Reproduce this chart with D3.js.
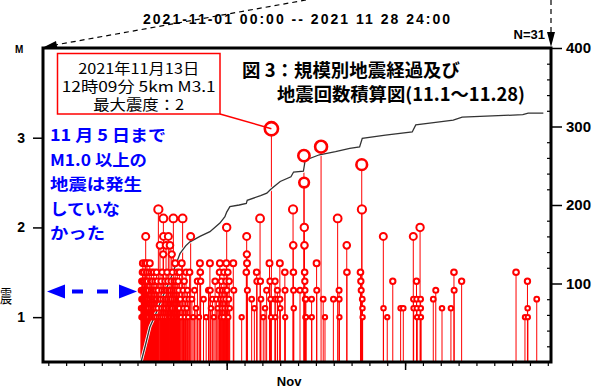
<!DOCTYPE html>
<html>
<head>
<meta charset="utf-8">
<script src="https://cdn.jsdelivr.net/npm/d3@7"></script>
<style>
  body { margin: 0; background: #fff; }
  svg { display: block; }
</style>
</head>
<body>
<svg id="chart" width="607" height="388"></svg>
<script>
// ---- texts ----
const periodLabel = "2021-11-01 00:00 -- 2021 11 28 24:00";
const countLabel = "N=31";
const titleLines = ["図 3：規模別地震経過及び", "地震回数積算図(11.1～11.28)"];
const noteLines = ["2021年11月13日", "12時09分 5km  M3.1", "最大震度：2"];
const remarkLines = ["11 月 5 日まで", "M1.0 以上の", "地震は発生", "していな", "かった"];
const sideLabel = "震";
const monthLabel = "Nov";

// ---- axis ticks ----
const magTicks = [1, 2, 3];
const countTicks = [100, 200, 300, 400];
const countMinorTicks = [20, 40, 60, 80, 120, 140, 160, 180, 220, 240, 260, 280, 320, 340, 360, 380];
const majorDayTicks = [11, 21];

// ---- events: [day of November (decimal, JST), magnitude] ----
const nov06 = [
  [6.20,1.1],[6.21,1.3],[6.22,1.0],[6.23,1.2],[6.24,1.4],[6.25,1.1],[6.26,1.0],[6.27,1.3],[6.28,1.5],[6.29,1.2],
  [6.30,1.6],[6.31,1.0],[6.32,1.4],[6.33,1.1],[6.34,1.3],[6.35,1.2],[6.36,1.0],[6.37,1.5],[6.38,1.1],[6.39,1.4],
  [6.40,1.2],[6.41,1.0],[6.42,1.3],[6.43,1.6],[6.44,1.1],[6.45,1.2],[6.46,1.9],[6.47,1.0],[6.48,1.4],[6.49,1.3],
  [6.50,1.1],[6.51,1.2],[6.52,1.5],[6.53,1.6],[6.54,1.0],[6.55,1.3],[6.56,1.1],[6.57,1.4],[6.58,1.2],[6.60,1.0],
  [6.62,1.3],[6.63,1.1],[6.65,1.5],[6.67,1.2],[6.69,1.6],
  [6.71,1.2],[6.72,1.0],[6.74,1.4],[6.75,1.1],[6.77,1.3],[6.78,1.5],[6.80,1.0],[6.81,1.2],[6.83,1.4],[6.84,1.1],
  [6.86,1.3],[6.88,1.0],[6.89,1.2],[6.91,1.5],[6.93,1.1],[6.95,1.3],[6.96,1.0],[6.98,1.4]
];
const nov07 = [
  [7.00,1.2],[7.02,1.1],[7.04,1.3],[7.05,1.0],[7.07,1.5],[7.09,1.2],[7.11,1.4],[7.13,1.1],[7.15,1.3],[7.17,2.2],
  [7.19,1.0],[7.22,1.2],[7.26,1.8],[7.28,1.2],[7.30,1.0],[7.32,1.4],[7.34,1.1],[7.36,1.3],[7.38,1.5],[7.40,1.0],
  [7.42,1.2],[7.44,1.7],[7.45,2.1],[7.46,1.9],[7.48,1.1],[7.50,1.3],[7.52,1.0],[7.54,1.4],[7.56,1.2],[7.58,1.1],
  [7.60,1.8],[7.62,1.3],[7.64,1.0],[7.66,1.5],[7.68,1.2],[7.70,1.4],[7.72,1.1],[7.73,1.9],[7.75,1.3],[7.77,1.0],
  [7.80,1.2],[7.82,1.8],[7.84,1.1],[7.85,1.3],[7.87,1.0],[7.89,1.4],[7.90,1.2],[7.92,1.7],[7.94,1.1],[7.96,1.5],
  [7.97,1.0],[7.99,1.3]
];
const nov08 = [
  [8.01,2.1],[8.03,1.2],[8.04,1.0],[8.06,1.4],[8.08,1.1],[8.09,1.3],[8.11,1.6],[8.13,1.0],[8.14,1.2],[8.16,1.4],
  [8.18,1.1],[8.19,1.3],[8.21,1.0],[8.23,1.5],[8.24,1.2],[8.26,1.1],[8.28,1.4],[8.29,1.0],[8.31,1.3],[8.33,1.2],
  [8.34,1.1],[8.36,1.5],[8.37,1.0],[8.40,1.2],[8.44,1.0],[8.48,1.6],[8.53,2.1],[8.55,1.3],[8.58,1.1],[8.62,1.4],
  [8.65,1.0],[8.69,1.2],[8.72,1.5],[8.76,1.1],[8.80,1.3],[8.84,1.0],[8.88,1.2],[8.92,1.5],[8.98,1.9]
];
const nov09to12 = [
  [9.05,1.2],[9.12,1.0],[9.20,1.3],[9.28,1.1],[9.36,1.4],[9.45,1.0],[9.50,1.6],[9.52,1.5],[9.54,1.4],[9.70,1.2],
  [9.85,1.0],[9.98,1.3],[10.06,1.6],[10.08,1.3],[10.12,1.1],[10.20,1.2],[10.28,1.0],[10.35,1.4],[10.42,1.2],[10.50,1.1],
  [10.56,1.3],[10.60,1.5],[10.62,1.6],[10.65,1.2],[10.68,1.0],[10.70,1.4],[10.73,1.1],[10.76,1.3],[10.79,1.2],[10.82,1.0],
  [10.85,1.5],[10.88,1.1],[10.91,1.3],[10.94,1.2],[10.96,1.4],[10.98,1.6],[11.00,2.0],[11.02,1.3],[11.04,1.1],[11.06,1.5],
  [11.09,1.0],[11.12,1.2],[11.14,1.4],[11.17,1.1],[11.37,1.6],[11.40,1.3],[11.84,1.0],[12.10,1.5],[12.12,1.9],[12.13,1.7],
  [12.14,1.6],[12.16,1.3],[12.40,1.2],[12.55,1.1],[12.68,1.5],[12.70,1.4],[12.87,2.1],[12.89,1.4],[12.92,1.2]
];
const nov13 = [
  [13.05,1.0],[13.15,1.1],[13.24,1.3],[13.40,1.6],[13.43,1.4],[13.46,1.2],[13.48,1.0],[13.506,3.1],[13.71,1.4],[13.72,1.2],
  [13.73,1.0],[13.84,1.3],[13.85,1.2],[13.98,1.6],[13.99,1.2]
];
const nov14to20 = [
  [14.00,1.1],[14.26,1.5],[14.27,1.3],[14.28,1.0],[14.72,2.2],[14.73,1.8],[14.74,1.5],[14.75,1.3],[14.76,1.1],[15.11,1.3],
  [15.33,2.8],[15.34,2.5],[15.35,2.0],[15.36,1.8],[15.37,1.5],[15.38,1.4],[15.39,1.3],[15.40,1.2],[15.41,1.0],[15.44,1.2],
  [15.45,1.0],[15.76,1.2],[15.77,1.0],[16.04,1.6],[16.05,1.3],[16.29,2.9],[16.41,1.2],[16.51,1.0],[16.98,1.2],[17.22,2.1],
  [17.30,1.3],[17.31,1.2],[17.32,1.0],[17.73,1.8],[17.74,1.5],[18.50,1.5],[18.52,1.4],[18.54,1.3],[18.57,2.7],[18.58,2.2],
  [18.60,1.2],[18.61,1.1],[18.62,1.0],[19.78,1.9],[19.79,1.1],[20.00,1.0],[20.31,1.4],[20.75,1.1],[20.90,1.1]
];
const nov21to28 = [
  [21.46,1.9],[21.47,1.2],[21.48,1.1],[21.64,1.4],[21.65,1.2],[21.66,1.1],[21.67,1.0],[21.84,2.0],[21.87,1.2],[21.88,1.1],
  [21.89,1.0],[22.58,1.2],[22.72,1.3],[23.07,1.1],[23.57,1.1],[23.74,1.5],[23.75,1.3],[24.17,1.4],[27.22,1.5],[27.72,1.0],
  [27.86,1.4],[27.87,1.1],[27.88,1.0],[28.38,1.2]
];
// the event the note box refers to
const notedEvent = [13.506, 3.1];

// ---- running total of events: [day of November, count] ----
const cumulativeCounts = [
  [6.20,0],[6.45,22],[6.70,45],[7.00,60],[7.26,75],[7.55,90],[7.82,104],[8.10,121],[8.38,138],[8.70,148],
  [8.94,153],[9.50,160],[10.06,166],[10.62,177],[10.90,185],[11.00,191],[11.18,198],[11.70,200],[12.10,202],[12.15,206],
  [12.90,212],[13.25,215],[13.43,219],[13.52,221],[14.00,230],[14.60,236],[14.75,242],[15.30,243],[15.40,257],[16.20,264],
  [17.10,268],[17.90,272],[18.45,274],[18.60,285],[19.90,289],[21.40,293],[21.60,302],[22.60,305],[23.70,308],[24.20,312],
  [27.60,315],[27.90,317],[28.75,317]
];

// ---- drawing ----
const svg = d3.select("#chart");
const frame = { left: 43, right: 551, top: 48, bottom: 362 };
const sans = "'Liberation Sans', Arial, sans-serif";
const cjk = "'Noto Sans CJK JP', sans-serif";

const t0 = new Date(2021, 10, 1);
const dayToDate = d => new Date(t0.getTime() + (d - 1) * 864e5);

const x = d3.scaleTime().domain([t0, new Date(2021, 10, 29)]).range([48.3, 547.8]);
const yM = d3.scaleLinear().domain([0.5, 4]).range([frame.bottom, frame.top]);
const yN = d3.scaleLinear().domain([0, 400]).range([frame.bottom, frame.top]);
// circle radius grows geometrically with magnitude
const rM = d3.scaleLinear().domain([Math.pow(1.66, 1), Math.pow(1.66, 3.1)]).range([2.16, 6.6]);
const radius = m => rM(Math.pow(1.66, m));

const events = [].concat(nov06, nov07, nov08, nov09to12, nov13, nov14to20, nov21to28)
  .map(([d, m]) => ({ t: dayToDate(d), m }));

svg.append("defs").append("clipPath").attr("id", "plot-clip")
  .append("rect")
  .attr("x", frame.left).attr("y", frame.top)
  .attr("width", frame.right - frame.left).attr("height", frame.bottom - frame.top);

const plot = svg.append("g").attr("clip-path", "url(#plot-clip)");

// stems
plot.append("g").selectAll("line").data(events).join("line")
  .attr("x1", d => x(d.t)).attr("x2", d => x(d.t))
  .attr("y1", frame.bottom).attr("y2", d => yM(d.m))
  .attr("stroke", "#ff0000").attr("stroke-width", 1);

// cumulative count curve
const cumLine = d3.line().x(d => x(dayToDate(d[0]))).y(d => yN(d[1]));
plot.append("path").datum(cumulativeCounts).attr("d", cumLine)
  .attr("fill", "none").attr("stroke", "#fff").attr("stroke-width", 3);
plot.append("path").datum(cumulativeCounts).attr("d", cumLine)
  .attr("fill", "none").attr("stroke", "#333").attr("stroke-width", 1.3);

// leader from the note box to the noted event
const nx = x(dayToDate(notedEvent[0])), ny = yM(notedEvent[1]);
svg.append("line").attr("x1", 220).attr("y1", 114).attr("x2", nx).attr("y2", ny)
  .attr("stroke", "#ff0000").attr("stroke-width", 1.5);

// magnitude circles
plot.append("g").selectAll("circle").data(events).join("circle")
  .attr("cx", d => x(d.t)).attr("cy", d => yM(d.m)).attr("r", d => radius(d.m))
  .attr("fill", "#fff").attr("stroke", "#ff0000")
  .attr("stroke-width", d => d.m >= 2.5 ? 2.6 : 2);

// frame
svg.append("rect")
  .attr("x", frame.left).attr("y", frame.top)
  .attr("width", frame.right - frame.left).attr("height", frame.bottom - frame.top)
  .attr("fill", "none").attr("stroke", "#000").attr("stroke-width", 3);

// left magnitude axis
const gL = svg.append("g").attr("transform", `translate(${frame.left},0)`)
  .call(d3.axisLeft(yM).tickValues(magTicks).tickSize(10).tickPadding(8).tickFormat(d3.format("d")));
gL.select(".domain").remove();
gL.selectAll("line").attr("stroke-width", 1.5);
gL.selectAll("text").attr("font-family", sans).attr("font-weight", "bold").attr("font-size", 14);

// right count axis
const gR = svg.append("g").attr("transform", `translate(${frame.right},0)`)
  .call(d3.axisRight(yN).tickValues(countTicks).tickSize(11).tickPadding(4));
gR.select(".domain").remove();
gR.selectAll("line").attr("stroke-width", 1.5);
gR.selectAll("text").attr("font-family", sans).attr("font-weight", "bold").attr("font-size", 15);
const gR2 = svg.append("g").attr("transform", `translate(${frame.right},0)`)
  .call(d3.axisRight(yN).tickValues(countMinorTicks).tickSize(-4).tickFormat(""));
gR2.select(".domain").remove();
gR2.selectAll("line").attr("stroke-width", 1.2);

// bottom time axis
const days = d3.timeDay.range(t0, new Date(2021, 10, 30));
const gB = svg.append("g").attr("transform", `translate(0,${frame.bottom})`)
  .call(d3.axisBottom(x).tickValues(days).tickSize(4).tickFormat(""));
gB.select(".domain").remove();
gB.selectAll("line").attr("stroke-width", 1.2);
const gB2 = svg.append("g").attr("transform", `translate(0,${frame.bottom})`)
  .call(d3.axisBottom(x).tickValues(majorDayTicks.map(dayToDate)).tickSize(8).tickFormat(""));
gB2.select(".domain").remove();
gB2.selectAll("line").attr("stroke-width", 1.5);

svg.append("text").attr("x", x(dayToDate(14.5))).attr("y", 386)
  .attr("text-anchor", "middle").attr("font-family", sans).attr("font-weight", "bold")
  .attr("font-size", 13).text(monthLabel);

// axis captions
svg.append("text").attr("x", 15).attr("y", 53)
  .attr("font-family", sans).attr("font-weight", "bold").attr("font-size", 10).text("M");
svg.append("text").attr("x", 0).attr("y", 303)
  .attr("font-family", cjk).attr("font-size", 18)
  .attr("textLength", 12).attr("lengthAdjust", "spacingAndGlyphs").text(sideLabel);

// period header and pointers
svg.append("text").attr("x", 143).attr("y", 24)
  .attr("font-family", sans).attr("font-weight", "bold").attr("font-size", 14)
  .attr("textLength", 307).attr("lengthAdjust", "spacing").text(periodLabel);

svg.append("line").attr("x1", 306).attr("y1", 0).attr("x2", 55).attr("y2", 45)
  .attr("stroke", "#000").attr("stroke-width", 1.2).attr("stroke-dasharray", "5,4");
svg.append("path").attr("d", "M44,47 L56,41 L57.5,48.5 Z").attr("fill", "#000");

svg.append("line").attr("x1", frame.right).attr("y1", 0).attr("x2", frame.right).attr("y2", 33)
  .attr("stroke", "#000").attr("stroke-width", 1.2).attr("stroke-dasharray", "5,4");
svg.append("path").attr("d", `M${frame.right - 4},32 L${frame.right + 4},32 L${frame.right},47 Z`).attr("fill", "#000");

svg.append("text").attr("x", 545).attr("y", 39).attr("text-anchor", "end")
  .attr("font-family", sans).attr("font-weight", "bold").attr("font-size", 13).text(countLabel);

// title
const titleX = [242, 277], titleY = [77, 101], titleW = [218, 248];
titleLines.forEach((s, i) => {
  svg.append("text").attr("x", titleX[i]).attr("y", titleY[i])
    .attr("font-family", cjk).attr("font-weight", "bold").attr("font-size", 18)
    .attr("textLength", titleW[i]).attr("lengthAdjust", "spacingAndGlyphs").text(s);
});

// note box for the largest event
svg.append("rect").attr("x", 57.5).attr("y", 53.5).attr("width", 162.5).attr("height", 60.5)
  .attr("fill", "#fff").attr("stroke", "#ff0000").attr("stroke-width", 1.5);
const noteY = [74, 92, 110], noteW = [121, 154, 91];
noteLines.forEach((s, i) => {
  svg.append("text").attr("x", 138.7).attr("y", noteY[i]).attr("text-anchor", "middle")
    .attr("font-family", cjk).attr("font-size", 14.5)
    .attr("textLength", noteW[i]).attr("lengthAdjust", "spacingAndGlyphs").text(s);
});

// remark about the quiet period
const remarkW = [116, 97, 92, 70, 55];
remarkLines.forEach((s, i) => {
  svg.append("text").attr("x", 50).attr("y", 141 + 24.5 * i)
    .attr("font-family", cjk).attr("font-weight", "bold").attr("font-size", 16).attr("fill", "#0000ff")
    .attr("textLength", remarkW[i]).attr("lengthAdjust", "spacingAndGlyphs").text(s);
});

// dashed double arrow spanning the quiet period
const arrowY = 291.5;
svg.append("line").attr("x1", 64).attr("y1", arrowY).attr("x2", 120).attr("y2", arrowY)
  .attr("stroke", "#0000ff").attr("stroke-width", 4).attr("stroke-dasharray", "0,8,11,6");
svg.append("path").attr("d", `M47,${arrowY} L65,${arrowY - 7} L65,${arrowY + 7} Z`).attr("fill", "#0000ff");
svg.append("path").attr("d", `M137,${arrowY} L119,${arrowY - 7} L119,${arrowY + 7} Z`).attr("fill", "#0000ff");
</script>
</body>
</html>
